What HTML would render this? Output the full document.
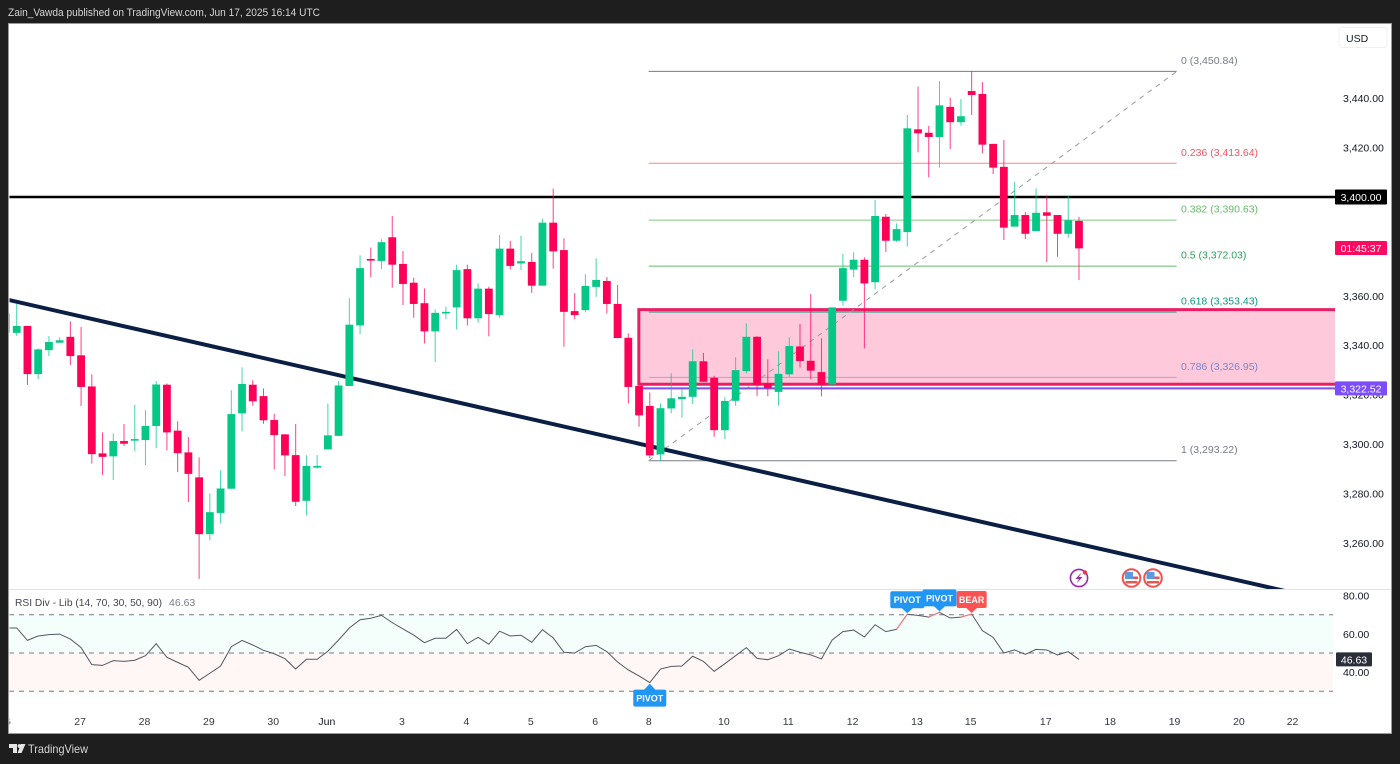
<!DOCTYPE html>
<html lang="en">
<head>
<meta charset="utf-8">
<title>Gold chart - TradingView snapshot</title>
<style>
html,body{margin:0;padding:0;background:#1e1e1e;width:1400px;height:764px;overflow:hidden}
svg{display:block;font-family:"Liberation Sans",sans-serif}
text{font-family:"Liberation Sans",sans-serif}
</style>
</head>
<body>
<svg id="chart" xmlns="http://www.w3.org/2000/svg" width="1400" height="764" viewBox="0 0 1400 764">
  <defs>
    <clipPath id="main-clip"><rect x="9.5" y="24" width="1325.5" height="565"/></clipPath>
    <clipPath id="rsi-clip"><rect x="9.5" y="590" width="1325.5" height="142"/></clipPath>
    <clipPath id="plot-clip"><rect x="9.5" y="24" width="1381" height="709"/></clipPath>
  </defs>
  <rect x="0" y="0" width="1400" height="764" fill="#1e1e1e"/>
  <text x="8" y="16" font-size="11" textLength="312" lengthAdjust="spacingAndGlyphs" fill="#d4d4d4">Zain_Vawda published on TradingView.com, Jun 17, 2025 16:14 UTC</text>
  <rect x="8.5" y="23.5" width="1383" height="710" fill="#ffffff" stroke="#9a9a9a" stroke-width="1"/>

  <g id="main-layer" clip-path="url(#main-clip)"></g>
  <line x1="9" y1="589.5" x2="1391" y2="589.5" stroke="#e0e3eb" stroke-width="1"/>
  <g id="rsi-layer" clip-path="url(#rsi-clip)"></g>
  <g id="axis-layer" clip-path="url(#plot-clip)"></g>
  <g id="label-layer"></g>

  <g>
    <g>
      <circle cx="1079" cy="578" r="8.6" fill="#ffffff" stroke="#9c27b0" stroke-width="1.6"/>
      <path d="M1081.5 572.5 L1075.5 579 L1079 579 L1076.5 583.5 L1082.5 577 L1079 577 Z" fill="#9c27b0"/>
      <circle cx="1085" cy="572.5" r="2.2" fill="#f23645"/>
    </g>
    <g>
      <circle cx="1131.5" cy="578" r="8.8" fill="#ffffff" stroke="#ef5350" stroke-width="2"/>
      <rect x="1125" y="576.5" width="13" height="2.6" fill="#ef5350"/>
      <rect x="1125.5" y="581" width="12" height="2.4" fill="#ef5350"/>
      <rect x="1125" y="572" width="8" height="7" fill="#5b9be0"/>
    </g>
    <g>
      <circle cx="1153" cy="578" r="8.8" fill="#ffffff" stroke="#ef5350" stroke-width="2"/>
      <rect x="1146.5" y="576.5" width="13" height="2.6" fill="#ef5350"/>
      <rect x="1147" y="581" width="12" height="2.4" fill="#ef5350"/>
      <rect x="1146.5" y="572" width="8" height="7" fill="#5b9be0"/>
    </g>
  </g>

  <g>
    <rect x="1339" y="27.5" width="48" height="20" rx="3" fill="#ffffff" stroke="#f0f0f0"/>
    <text x="1346" y="42" font-size="10.5" fill="#131722">USD</text>
  </g>

  <text x="15" y="606" font-size="10.5" textLength="147" lengthAdjust="spacingAndGlyphs" fill="#434651">RSI Div - Lib (14, 70, 30, 50, 90)</text>
  <text x="169" y="606" font-size="10.5" fill="#787b86">46.63</text>

  <g>
    <path d="M9 744 H17 V753 H13 V748 H9 Z" fill="#e6e6e6"/>
    <circle cx="19.5" cy="746" r="1.9" fill="#e6e6e6"/>
    <path d="M21 744 H25.5 L21.5 753 H17.5 Z" fill="#e6e6e6"/>
    <text x="28" y="753" font-size="12" textLength="60" lengthAdjust="spacingAndGlyphs" fill="#d6d6d6">TradingView</text>
  </g>
</svg>

<script>
// ---- Chart data ----
const highs = [3355.9,3356.7,3347.8,3338.7,3343.7,3343.2,3349.7,3347.4,3328.2,3304.7,3304.3,3308.1,3315.8,3313.7,3325.5,3324.5,3309.2,3302.8,3294.6,3280.0,3289.4,3321.8,3331.0,3325.8,3322.5,3312.2,3304.0,3308.1,3295.5,3295.5,3316.4,3325.5,3359.0,3376.4,3379.5,3382.9,3392.3,3378.1,3367.3,3363.0,3354.5,3355.6,3372.6,3372.6,3365.0,3363.7,3384.6,3382.3,3384.3,3377.3,3391.2,3403.4,3383.3,3361.1,3368.7,3375.2,3367.6,3364.4,3344.8,3323.5,3320.9,3316.4,3328.6,3322.1,3338.3,3336.9,3327.6,3319.1,3335.1,3348.8,3343.7,3334.3,3337.5,3343.2,3348.6,3360.7,3342.8,3355.3,3377.0,3377.6,3375.6,3398.8,3393.1,3389.3,3433.2,3444.7,3428.8,3446.9,3440.2,3439.6,3450.84,3446.5,3421.5,3423.0,3406.0,3393.9,3403.5,3400.7,3392.7,3400.4,3392.0];
const lows = [3342.1,3343.7,3323.9,3326.2,3335.6,3341.0,3332.0,3315.4,3292.1,3287.5,3285.4,3299.2,3297.1,3291.5,3298.3,3297.4,3288.6,3276.5,3245.4,3261.0,3267.8,3281.9,3305.1,3315.5,3308.2,3289.7,3287.0,3274.9,3271.1,3290.0,3297.8,3303.3,3323.5,3344.5,3367.5,3370.8,3363.3,3356.3,3351.1,3340.7,3333.2,3350.6,3346.4,3348.0,3349.1,3343.6,3351.1,3370.7,3370.4,3361.2,3364.1,3371.0,3339.4,3350.5,3353.3,3359.6,3352.9,3342.8,3316.4,3307.0,3294.3,3293.1,3312.4,3310.6,3316.2,3325.2,3302.9,3302.0,3315.5,3328.6,3319.5,3319.3,3315.5,3327.2,3331.0,3326.2,3319.3,3324.0,3356.0,3367.5,3338.7,3362.6,3377.8,3381.9,3379.9,3418.1,3408.0,3411.9,3419.4,3428.9,3433.2,3417.7,3409.3,3382.6,3388.0,3383.0,3386.2,3373.7,3375.8,3383.5,3366.4];
const opens = [3352.9,3345.0,3347.8,3328.3,3338.0,3341.0,3343.4,3335.9,3323.3,3296.2,3295.0,3301.2,3301.6,3301.6,3307.3,3324.0,3305.4,3296.6,3286.5,3263.5,3272.1,3281.9,3312.4,3324.0,3319.4,3309.7,3303.9,3295.5,3277.0,3290.7,3297.8,3303.3,3323.5,3348.0,3374.9,3374.1,3383.7,3372.9,3365.3,3357.0,3345.6,3353.0,3355.3,3370.8,3350.9,3362.9,3352.2,3379.1,3373.1,3373.7,3364.1,3389.6,3378.5,3353.8,3354.2,3363.6,3366.0,3356.7,3343.0,3323.5,3315.4,3295.8,3314.4,3318.2,3319.1,3333.5,3326.8,3305.6,3317.5,3329.5,3343.4,3324.5,3321.1,3328.2,3339.5,3333.7,3329.1,3324.1,3358.0,3370.6,3374.6,3365.5,3392.0,3382.3,3385.8,3427.4,3426.0,3424.3,3436.5,3430.3,3442.9,3441.7,3421.5,3412.2,3388.0,3392.7,3386.2,3393.8,3392.7,3385.1,3390.3];
const closes = [3345.0,3347.8,3328.3,3338.3,3341.3,3342.0,3335.6,3323.1,3295.9,3294.8,3301.2,3300.1,3302.0,3307.3,3324.1,3304.7,3296.3,3287.9,3263.5,3272.4,3282.0,3312.1,3324.3,3317.3,3309.6,3303.6,3295.4,3276.6,3291.1,3291.1,3303.5,3323.7,3348.3,3371.2,3374.4,3381.7,3372.6,3364.8,3356.7,3345.6,3353.1,3353.5,3370.4,3350.9,3362.9,3352.6,3379.1,3372.1,3374.0,3364.1,3389.6,3378.0,3353.5,3352.2,3364.0,3366.4,3356.7,3342.9,3323.1,3311.6,3295.4,3314.5,3318.5,3319.1,3333.5,3325.2,3305.6,3317.4,3329.9,3343.4,3323.9,3322.6,3328.4,3339.7,3333.6,3329.7,3324.0,3355.3,3371.2,3374.6,3365.0,3392.3,3382.3,3387.0,3427.8,3425.8,3424.3,3437.1,3430.3,3432.7,3441.3,3421.2,3411.9,3387.6,3392.7,3385.1,3393.6,3392.4,3385.1,3390.6,3379.2];
const rsiValues = [63.1,63.1,56.6,58.9,59.6,59.9,57.3,52.8,43.9,43.5,46.0,45.6,46.2,48.6,54.9,47.7,45.1,42.5,35.7,39.4,43.2,53.3,56.6,54.2,51.4,49.6,47.0,41.6,46.7,46.7,50.9,56.8,63.1,67.4,68.2,69.7,65.9,62.6,59.4,55.4,57.7,57.7,62.4,54.9,58.2,54.6,61.4,58.9,59.3,55.6,62.2,57.9,50.4,50.0,53.3,54.0,50.7,45.3,41.1,38.0,34.5,41.6,43.0,43.2,48.3,45.6,40.4,44.4,48.6,52.8,47.2,46.5,48.6,52.1,50.4,49.0,46.9,56.8,61.2,62.0,58.4,64.8,61.2,62.4,70.3,69.7,68.8,71.3,68.3,68.8,70.4,61.7,58.2,50.0,51.6,49.3,51.9,51.6,49.0,50.7,46.63];
const bearSegmentEnds = [84,87,90];

const priceTicks = [3440,3420,3360,3340,3320,3300,3280,3260];
const rsiTicks = [80,60,40];
const rsiGuides = [70,50,30];
const dayLabels = ["26","27","28","29","30","Jun","3","4","5","6","8","10","11","12","13","15","17","18","19","20","22"];
const dayIndexes = [0,7,13,19,25,30,37,43,49,55,60,67,73,79,85,90,97,103,109,115,120];

const fibRatios = ["0","0.236","0.382","0.5","0.618","0.786","1"];
const fibPrices = [3450.84,3413.64,3390.63,3372.03,3353.43,3326.95,3293.22];
const fibColors = ["#787b86","#f7858c","#81c784","#66bb6a","#089981","#9fa8da","#787b86"];
const fibLabelColors = ["#787b86","#f7525f","#66bb6a","#2e9e5b","#089981","#7986cb","#787b86"];
const fibStartIndex = 59.9;
const fibEndIndex = 109.1;

const resistanceLevel = 3400;
const supportLevel = 3322.52;
const zoneTop = 3354.4;
const zoneBottom = 3324.2;
const zoneStartIndex = 59;
const trendStart = {index:0.28, price:3358.3};
const trendEnd = {index:121, price:3238.7};

const pivotTop = [84,87];
const pivotBottom = [60];
const bearBadge = [90];

// ---- Axis functions ----
const xScale = i => 5.97 + 10.73 * i;
const yPrice = p => 197 - (p - 3400) * 2.47;
const yRsi = v => 653 - (v - 50) * 1.91;
const fmt = p => p.toLocaleString('en-US',{minimumFractionDigits:2,maximumFractionDigits:2});

const NS = 'http://www.w3.org/2000/svg';
function make(tag, props, parent){
  const e = document.createElementNS(NS, tag);
  for (const k in props) e.setAttribute(k, props[k]);
  parent.appendChild(e);
  return e;
}
const mainLayer = document.getElementById('main-layer');
const rsiLayer = document.getElementById('rsi-layer');
const axisLayer = document.getElementById('axis-layer');
const labelLayer = document.getElementById('label-layer');
const GREEN = '#05c887', RED = '#fe0056';

// Demand zone
const zx = xScale(zoneStartIndex) - 0.2;
const zone = make('rect',{x:zx,y:yPrice(zoneTop),width:1340-zx,height:yPrice(zoneBottom)-yPrice(zoneTop),fill:'#ffc9dc',stroke:'#e91e63','stroke-width':3},mainLayer);



// Fibonacci levels
fibPrices.forEach((p,k)=>{
  const ln = make('line',{x1:xScale(fibStartIndex),x2:xScale(fibEndIndex),y1:yPrice(p),y2:yPrice(p),stroke:fibColors[k],'stroke-width':1},mainLayer);
  
  
  const t = make('text',{x:1181,y:yPrice(p)-7.5,'font-size':10.5,fill:fibLabelColors[k]},labelLayer);
  t.textContent = fibRatios[k] + ' (' + fmt(p) + ')';
  
  
});
const fibDiag = make('line',{x1:xScale(fibStartIndex),y1:yPrice(fibPrices[6]),x2:xScale(fibEndIndex),y2:yPrice(fibPrices[0]),stroke:'#9a9a9a','stroke-width':1,'stroke-dasharray':'5 5'},mainLayer);



// Support (purple) and resistance (black) lines
const support = make('line',{x1:xScale(zoneStartIndex),x2:1335,y1:yPrice(supportLevel),y2:yPrice(supportLevel),stroke:'#7c4dff','stroke-width':2},mainLayer);


const resistance = make('line',{x1:9,x2:1336,y1:yPrice(resistanceLevel),y2:yPrice(resistanceLevel),stroke:'#000000','stroke-width':2.6},mainLayer);



// Descending trend line
const trend = make('line',{x1:xScale(trendStart.index),y1:yPrice(trendStart.price),x2:xScale(trendEnd.index),y2:yPrice(trendEnd.price),stroke:'#0b1f45','stroke-width':4},mainLayer);



// Candles
opens.forEach((o,i)=>{
  const c = closes[i], up = c >= o, col = up ? GREEN : RED, x = xScale(i);
  const top = yPrice(Math.max(o,c)), bot = yPrice(Math.min(o,c));
  const wick = make('line',{x1:x,x2:x,y1:yPrice(highs[i]),y2:yPrice(lows[i]),stroke:col,'stroke-width':1,'stroke-opacity':0.75},mainLayer);
  
  
  const body = make('rect',{x:x-3.9,y:top,width:7.8,height:Math.max(bot-top,1.6),fill:col},mainLayer);
  
  
});

// RSI bands and guides
const bandUp = make('rect',{x:9,y:yRsi(rsiGuides[0]),width:1324,height:yRsi(rsiGuides[1])-yRsi(rsiGuides[0]),fill:'#f4fefb'},rsiLayer);


const bandDn = make('rect',{x:9,y:yRsi(rsiGuides[1]),width:1324,height:yRsi(rsiGuides[2])-yRsi(rsiGuides[1]),fill:'#fef7f6'},rsiLayer);


rsiGuides.forEach(v=>{
  const g = make('line',{x1:9,x2:1333,y1:yRsi(v),y2:yRsi(v),stroke:'#787b86','stroke-width':1,'stroke-dasharray':'5 5'},rsiLayer);
  
  
});

// RSI line
const rsiPts = rsiValues.map((v,i)=>xScale(i).toFixed(2)+','+yRsi(v).toFixed(2)).join(' ');
const rsiLine = make('polyline',{points:rsiPts,fill:'none',stroke:'#555860','stroke-width':1},rsiLayer);


bearSegmentEnds.forEach(i=>{
  const s = make('line',{x1:xScale(i-1),y1:yRsi(rsiValues[i-1]),x2:xScale(i),y2:yRsi(rsiValues[i]),stroke:'#f77c80','stroke-width':1.2},rsiLayer);
  
  
});

// Badges
function badge(idx, label, color, above, w, name){
  const x = xScale(idx), y = yRsi(rsiValues[idx]);
  const g = make('g',{},axisLayer);
  
  
  const rectY = above ? y - 23 : y + 7;
  make('rect',{x:x-w/2,y:rectY,width:w,height:17,rx:2,fill:color},g);
  if (above) make('path',{d:`M${x-6} ${y-6.5} L${x} ${y-1} L${x+6} ${y-6.5} Z`,fill:color},g);
  else make('path',{d:`M${x-6} ${y+7.5} L${x} ${y+1} L${x+6} ${y+7.5} Z`,fill:color},g);
  const t = make('text',{x:x,y:rectY+12,'font-size':9,'font-weight':'bold','text-anchor':'middle',fill:'#ffffff'},g);
  t.textContent = label;
}
pivotTop.forEach(i=>badge(i,'PIVOT','#2196f3',true,34,'rsi-pivot-badge'));
bearBadge.forEach(i=>badge(i,'BEAR','#ff5252',true,30,'rsi-bear-badge'));
pivotBottom.forEach(i=>badge(i,'PIVOT','#2196f3',false,33,'rsi-pivot-badge-low'));

// Price axis ticks
priceTicks.forEach(p=>{
  const t = make('text',{x:1343,y:yPrice(p)+4,'font-size':10.5,fill:'#131722'},axisLayer);
  t.textContent = fmt(p);
  
  
});
rsiTicks.forEach(v=>{
  const t = make('text',{x:1343,y:yRsi(v)+4,'font-size':10.5,fill:'#131722'},axisLayer);
  t.textContent = v.toFixed(2);
  
  
});

// Price axis flags
function axisFlag(x,y,w,h,fill,label,name,fs){
  const g = make('g',{},axisLayer);
  
  
  make('rect',{x:x,y:y-h/2,width:w,height:h,rx:1,fill:fill},g);
  const t = make('text',{x:x+w/2,y:y+4,'font-size':fs,'text-anchor':'middle',fill:'#ffffff'},g);
  t.textContent = label;
}
axisFlag(1335,yPrice(resistanceLevel),52,15,'#000000',fmt(resistanceLevel),'resistance-price-label',10.5);
axisFlag(1335,248,52,14,'#ff0a5e','01:45:37','countdown-label',10.5);
axisFlag(1335,yPrice(supportLevel),52,14,'#7c4dff',fmt(supportLevel),'support-price-label',10.5);
axisFlag(1336,yRsi(rsiValues[rsiValues.length-1]),36,14,'#2a2e39',rsiValues[rsiValues.length-1].toFixed(2),'rsi-current-label',10.5);

// Time axis labels
dayLabels.forEach((d,k)=>{
  const t = make('text',{x:xScale(dayIndexes[k])-1,y:725,'font-size':10.5,'text-anchor':'middle',fill:d==='Jun'?'#131722':'#333740','font-weight':'normal'},axisLayer);
  t.textContent = d;
  
  
});
</script>
</body>
</html>
